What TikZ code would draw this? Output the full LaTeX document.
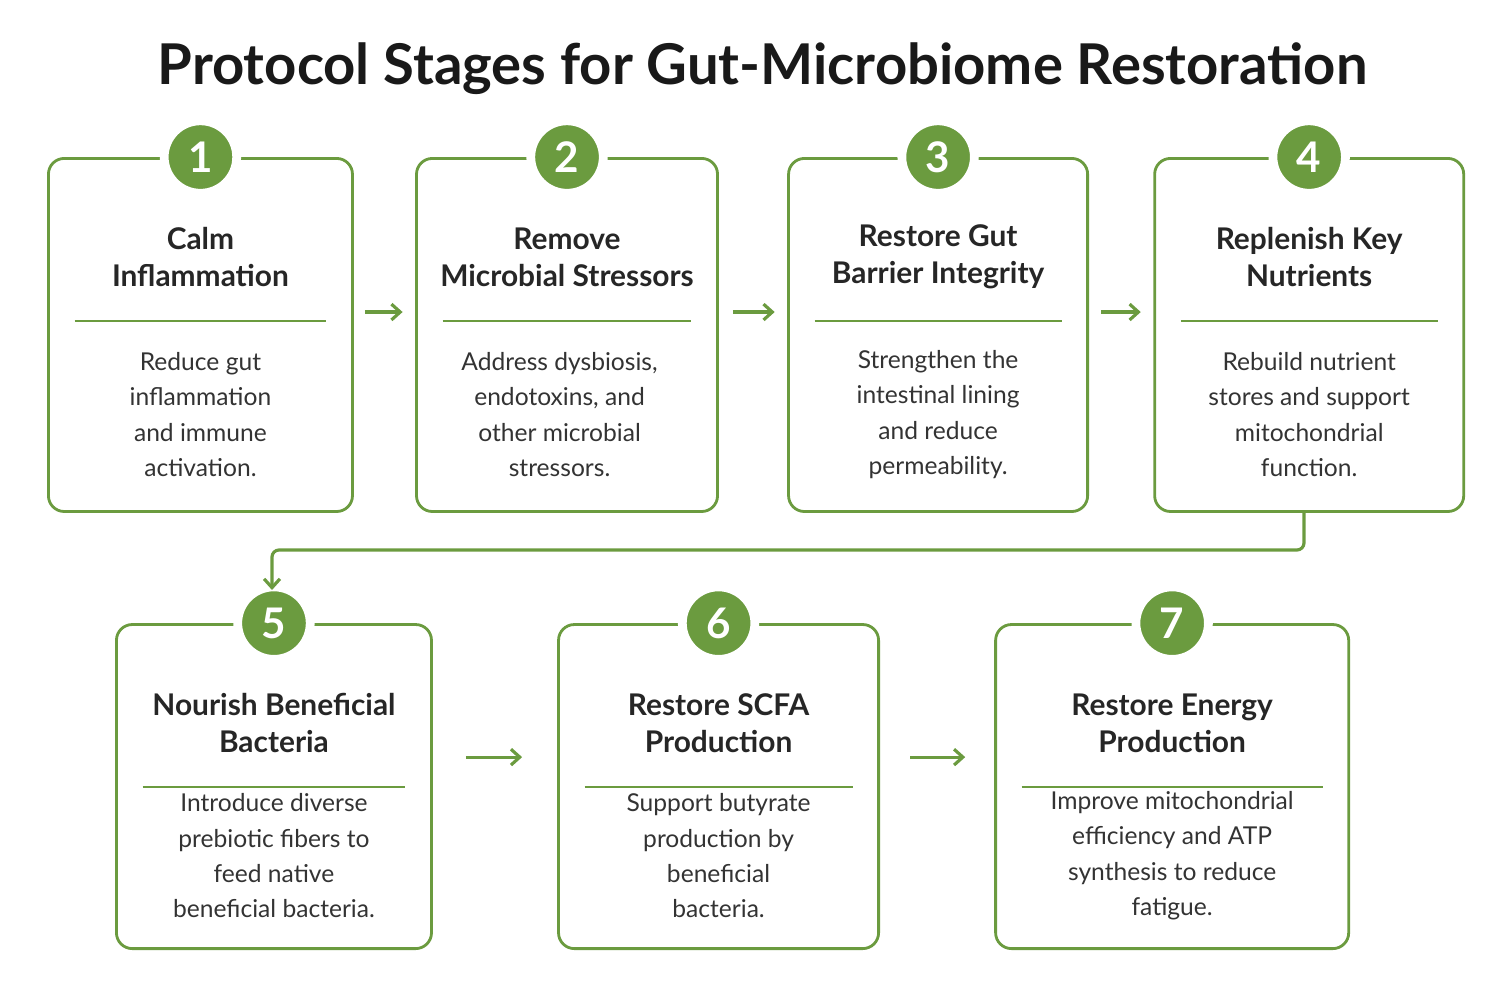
\documentclass[tikz,border=0pt]{standalone}
\usepackage{fontspec}
\setmainfont{Lato}
\usetikzlibrary{positioning,arrows.meta}
\definecolor{leaf}{HTML}{6B9B3F}
\tikzset{
  box/.style={draw=leaf, line width=1.6pt, rounded corners=9pt, anchor=north west, inner sep=0pt},
  badge/.style={circle, fill=leaf, draw=white, line width=5pt, minimum size=1.45cm, text=white, font=\bfseries\fontsize{24}{24}\selectfont},
  head/.style={align=center, font=\bfseries\fontsize{17}{21}\selectfont, text=black!85},
  body/.style={align=center, font=\fontsize{14}{20}\selectfont, text=black!80},
  flow/.style={draw=leaf, line width=1.8pt, -{Straight Barb[length=5pt,width=9pt]}}
}
% #1 name, #2 x, #3 y, #4 width, #5 height, #6 number, #7 heading
\newcommand{\stagebox}[7]{
  \node[box, minimum width=#4*0.02cm, minimum height=#5*0.02cm] (#1) at (#2*0.02,-#3*0.02) {};
  \node[badge] (#1n) at (#1.north) {#6};
  \node[head] (#1h) at ([yshift=-2.0cm]#1.north) {#7};
  \draw[leaf, line width=1pt] ([xshift=0.55cm,yshift=-3.28cm]#1.north west) -- ([xshift=-0.55cm,yshift=-3.28cm]#1.north east);
}
\begin{document}
\begin{tikzpicture}
\useasboundingbox (0,0) rectangle (30.18,-19.9);
\node[font=\bfseries\fontsize{32}{36}\selectfont, text=black!90] (title) at (15.25,-1.38) {Protocol Stages for Gut-Microbiome Restoration};

\stagebox{s1}{47}{157}{304}{353}{1}{Calm\\Inflammation}
\stagebox{s2}{415}{157}{301}{353}{2}{Remove\\Microbial Stressors}
\stagebox{s3}{787}{157}{299}{353}{3}{Restore Gut\\Barrier Integrity}
\stagebox{s4}{1153}{157}{309}{353}{4}{Replenish Key\\Nutrients}
\stagebox{s5}{115}{623}{315}{324}{5}{Nourish Beneficial\\Bacteria}
\stagebox{s6}{557}{623}{320}{324}{6}{Restore SCFA\\Production}
\stagebox{s7}{994}{623}{353}{324}{7}{Restore Energy\\Production}

\node[body] (s1b) at ([yshift=-5.15cm]s1.north) {Reduce gut\\inflammation\\and immune\\activation.};
\node[body] (s2b) at ([xshift=-0.15cm,yshift=-5.15cm]s2.north) {Address dysbiosis,\\endotoxins, and\\other microbial\\stressors.};
\node[body] (s3b) at ([yshift=-5.15cm]s3.north) {Strengthen the\\intestinal lining\\and reduce\\permeability.};
\node[body] (s4b) at ([yshift=-5.15cm]s4.north) {Rebuild nutrient\\stores and support\\mitochondrial\\function.};
\node[body] (s5b) at ([yshift=-4.65cm]s5.north) {Introduce diverse\\prebiotic fibers to\\feed native\\beneficial bacteria.};
\node[body] (s6b) at ([yshift=-4.65cm]s6.north) {Support butyrate\\production by\\beneficial\\bacteria.};
\node[body] (s7b) at ([yshift=-4.65cm]s7.north) {Improve mitochondrial\\efficiency and ATP\\synthesis to reduce\\fatigue.};

\draw[flow] ([xshift=0.22cm,yshift=-3.1cm]s1.north east) -- ([xshift=-0.25cm,yshift=-3.1cm]s2.north west);
\draw[flow] ([xshift=0.28cm,yshift=-3.1cm]s2.north east) -- ([xshift=-0.25cm,yshift=-3.1cm]s3.north west);
\draw[flow] ([xshift=0.24cm,yshift=-3.1cm]s3.north east) -- ([xshift=-0.25cm,yshift=-3.1cm]s4.north west);
\draw[flow] ([xshift=0.66cm,yshift=-2.68cm]s5.north east) -- ([xshift=-0.7cm,yshift=-2.68cm]s6.north west);
\draw[flow] ([xshift=0.6cm,yshift=-2.68cm]s6.north east) -- ([xshift=-0.58cm,yshift=-2.68cm]s7.north west);
\coordinate (turn) at (26.08,-11);
\coordinate (drop) at (5.44,-11.8);
\draw[flow, rounded corners=4pt] (s4.south -| turn) -- (turn) -- (turn -| drop) -- (drop);
\end{tikzpicture}
\end{document}
